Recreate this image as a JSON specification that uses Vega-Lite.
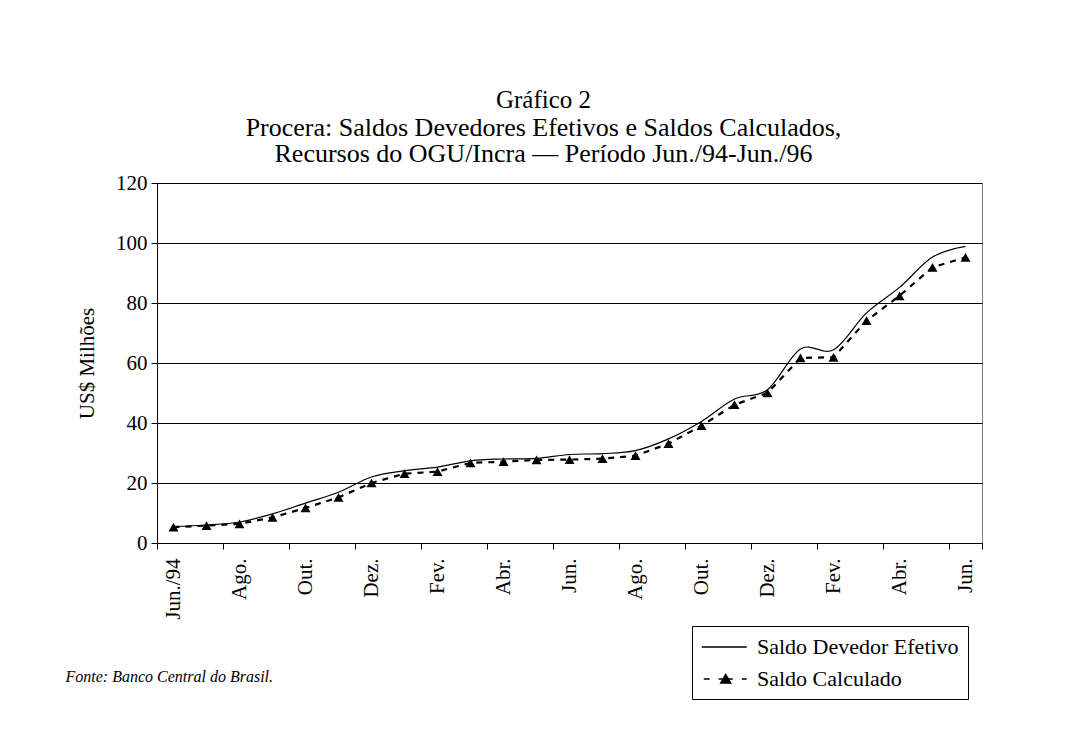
{
  "$schema": "https://vega.github.io/schema/vega-lite/v6.json",
  "width": 825,
  "height": 360,
  "autosize": {"type": "none"},
  "padding": {"left": 157, "top": 183, "right": 87, "bottom": 195},
  "background": "white",
  "title": {
    "text": "Gráfico 2",
    "subtitle": ["Procera: Saldos Devedores Efetivos e Saldos Calculados,", "Recursos do OGU/Incra — Período Jun./94-Jun./96"],
    "anchor": "middle",
    "dx": -26,
    "offset": 5
  },
  "config": {
    "view": {"stroke": "#808080", "strokeWidth": 1},
    "title": {
      "font": "Liberation Serif",
      "fontSize": 25,
      "fontWeight": "normal",
      "color": "black",
      "subtitleFont": "Liberation Serif",
      "subtitleFontSize": 26,
      "subtitleFontWeight": "normal",
      "subtitleColor": "black",
      "subtitleLineHeight": 26.5,
      "subtitlePadding": 2
    },
    "legend": {
      "labelFont": "Liberation Serif",
      "labelFontSize": 22,
      "labelColor": "black"
    },
    "axis": {
      "labelFont": "Liberation Serif",
      "labelFontSize": 21,
      "labelColor": "black",
      "titleFont": "Liberation Serif",
      "titleFontSize": 21,
      "titleFontWeight": "normal",
      "titleColor": "black",
      "domainColor": "black",
      "tickColor": "black",
      "gridColor": "black",
      "gridOpacity": 1
    }
  },
  "data": {
    "values": [
      {"i": 0, "serie": "Saldo Devedor Efetivo", "valor": 5.5},
      {"i": 1, "serie": "Saldo Devedor Efetivo", "valor": 6.0},
      {"i": 2, "serie": "Saldo Devedor Efetivo", "valor": 7.0},
      {"i": 3, "serie": "Saldo Devedor Efetivo", "valor": 9.7},
      {"i": 4, "serie": "Saldo Devedor Efetivo", "valor": 13.3},
      {"i": 5, "serie": "Saldo Devedor Efetivo", "valor": 16.9},
      {"i": 6, "serie": "Saldo Devedor Efetivo", "valor": 22.0},
      {"i": 7, "serie": "Saldo Devedor Efetivo", "valor": 24.1},
      {"i": 8, "serie": "Saldo Devedor Efetivo", "valor": 25.3},
      {"i": 9, "serie": "Saldo Devedor Efetivo", "valor": 27.4},
      {"i": 10, "serie": "Saldo Devedor Efetivo", "valor": 28.0},
      {"i": 11, "serie": "Saldo Devedor Efetivo", "valor": 28.2},
      {"i": 12, "serie": "Saldo Devedor Efetivo", "valor": 29.5},
      {"i": 13, "serie": "Saldo Devedor Efetivo", "valor": 29.8},
      {"i": 14, "serie": "Saldo Devedor Efetivo", "valor": 30.8},
      {"i": 15, "serie": "Saldo Devedor Efetivo", "valor": 34.7},
      {"i": 16, "serie": "Saldo Devedor Efetivo", "valor": 40.5},
      {"i": 17, "serie": "Saldo Devedor Efetivo", "valor": 48.0},
      {"i": 18, "serie": "Saldo Devedor Efetivo", "valor": 51.1},
      {"i": 19, "serie": "Saldo Devedor Efetivo", "valor": 64.7},
      {"i": 20, "serie": "Saldo Devedor Efetivo", "valor": 64.4},
      {"i": 21, "serie": "Saldo Devedor Efetivo", "valor": 76.7},
      {"i": 22, "serie": "Saldo Devedor Efetivo", "valor": 85.2},
      {"i": 23, "serie": "Saldo Devedor Efetivo", "valor": 95.3},
      {"i": 24, "serie": "Saldo Devedor Efetivo", "valor": 98.9},
      {"i": 0, "serie": "Saldo Calculado", "valor": 5.3},
      {"i": 1, "serie": "Saldo Calculado", "valor": 5.8},
      {"i": 2, "serie": "Saldo Calculado", "valor": 6.4},
      {"i": 3, "serie": "Saldo Calculado", "valor": 8.5},
      {"i": 4, "serie": "Saldo Calculado", "valor": 11.7},
      {"i": 5, "serie": "Saldo Calculado", "valor": 15.2},
      {"i": 6, "serie": "Saldo Calculado", "valor": 20.0},
      {"i": 7, "serie": "Saldo Calculado", "valor": 23.1},
      {"i": 8, "serie": "Saldo Calculado", "valor": 23.8},
      {"i": 9, "serie": "Saldo Calculado", "valor": 26.7},
      {"i": 10, "serie": "Saldo Calculado", "valor": 27.1},
      {"i": 11, "serie": "Saldo Calculado", "valor": 27.7},
      {"i": 12, "serie": "Saldo Calculado", "valor": 27.8},
      {"i": 13, "serie": "Saldo Calculado", "valor": 28.1},
      {"i": 14, "serie": "Saldo Calculado", "valor": 29.1},
      {"i": 15, "serie": "Saldo Calculado", "valor": 33.1},
      {"i": 16, "serie": "Saldo Calculado", "valor": 39.1},
      {"i": 17, "serie": "Saldo Calculado", "valor": 46.1},
      {"i": 18, "serie": "Saldo Calculado", "valor": 50.0},
      {"i": 19, "serie": "Saldo Calculado", "valor": 61.7},
      {"i": 20, "serie": "Saldo Calculado", "valor": 61.9},
      {"i": 21, "serie": "Saldo Calculado", "valor": 74.1},
      {"i": 22, "serie": "Saldo Calculado", "valor": 82.4},
      {"i": 23, "serie": "Saldo Calculado", "valor": 91.9},
      {"i": 24, "serie": "Saldo Calculado", "valor": 95.2}
    ]
  },
  "encoding": {
    "x": {
      "field": "i",
      "type": "quantitative",
      "scale": {"domain": [-0.5, 24.5], "nice": false, "zero": false},
      "axis": {
        "values": [-0.5, 1.5, 3.5, 5.5, 7.5, 9.5, 11.5, 13.5, 15.5, 17.5, 19.5, 21.5, 23.5, 24.5],
        "labelExpr": "['Jun./94','Ago.','Out.','Dez.','Fev.','Abr.','Jun.','Ago.','Out.','Dez.','Fev.','Abr.','Jun.',''][round((datum.value + 0.5) / 2)]",
        "labelOffset": 16.5,
        "labelAngle": -90,
        "labelAlign": "right",
        "labelBaseline": "middle",
        "labelPadding": 9,
        "labelOverlap": false,
        "labelBound": false,
        "labelFlush": false,
        "tickSize": 6,
        "grid": false,
        "title": "Fonte: Banco Central do Brasil.",
        "titleFontStyle": "italic",
        "titleFontSize": 16,
        "titleAlign": "left",
        "titleAnchor": "start",
        "titleBaseline": "middle",
        "titleX": -92,
        "titleY": 133
      }
    },
    "y": {
      "field": "valor",
      "type": "quantitative",
      "scale": {"domain": [0, 120], "nice": false},
      "axis": {
        "values": [0, 20, 40, 60, 80, 100, 120],
        "grid": true,
        "tickSize": 6,
        "labelPadding": 4,
        "title": "US$ Milhões",
        "titlePadding": 18
      }
    }
  },
  "layer": [
    {
      "transform": [{"filter": "datum.serie == 'Saldo Devedor Efetivo'"}],
      "mark": {"type": "line", "interpolate": "cardinal", "tension": 0, "color": "black", "strokeWidth": 1.2}
    },
    {
      "transform": [{"filter": "datum.serie == 'Saldo Calculado'"}],
      "mark": {"type": "line", "color": "black", "strokeWidth": 2.2, "strokeDash": [6, 6]}
    },
    {
      "transform": [{"filter": "datum.serie == 'Saldo Calculado'"}],
      "mark": {"type": "point", "shape": "triangle-up", "filled": true, "color": "black", "size": 100, "opacity": 1}
    },
    {
      "mark": {"type": "point", "opacity": 0, "fill": "black", "stroke": "black", "strokeWidth": 1.5},
      "encoding": {
        "shape": {
          "field": "serie",
          "type": "nominal",
          "scale": {
            "domain": ["Saldo Devedor Efetivo", "Saldo Calculado"],
            "range": ["M-1,0L3,0", "M-0.82,0L-0.29,0M0.5,0L1.76,0M2.56,0L3,0M0.69,0.36L1.57,0.36L1.13,-0.4Z"]
          },
          "legend": {
            "orient": "none",
            "legendX": 535,
            "legendY": 443,
            "title": null,
            "strokeColor": "black",
            "padding": 9,
            "labelOffset": 32,
            "labelLimit": 400,
            "symbolSize": 506,
            "symbolOpacity": 1,
            "symbolStrokeWidth": 1.5,
            "rowPadding": 9
          }
        }
      }
    }
  ]
}
